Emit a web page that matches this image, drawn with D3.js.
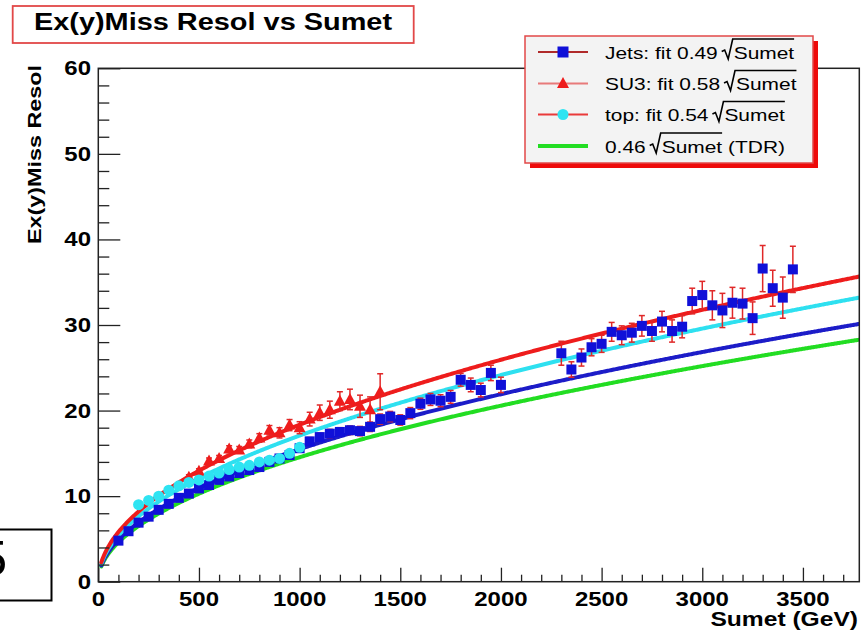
<!DOCTYPE html>
<html>
<head>
<meta charset="utf-8">
<script src="https://cdn.jsdelivr.net/npm/d3@7"></script>
<style>
  body { margin: 0; background: #fff; }
  svg { display: block; }
</style>
</head>
<body>
<svg id="chart" width="868" height="631"></svg>
<script>
// ---- data ----
const jetsSumet = [100,150,200,250,300,350,400,450,500,550,600,650,700,750,800,850,900,950,1000,
  1050,1100,1150,1200,1250,1300,1350,1400,1450,1500,1550,1600,1650,1700,1750,1800,1850,1900,1950,2000,
  2300,2350,2400,2450,2500,2550,2600,2650,2700,2750,2800,2850,2900,2950,3000,3050,3100,3150,3200,3250,
  3300,3350,3400,3450];
const jetsResol = [4.8,5.9,6.9,7.6,8.4,9.1,9.8,10.3,10.9,11.3,11.9,12.3,12.7,13.05,13.4,14.0,14.4,14.8,15.6,
  16.4,16.9,17.3,17.5,17.7,17.6,18.1,19.0,19.3,18.9,19.7,20.8,21.3,21.15,21.6,23.6,23.0,22.4,24.4,23.0,
  26.7,24.8,26.2,27.4,27.8,29.2,28.8,29.1,29.9,29.3,30.4,29.3,29.8,32.8,33.5,32.3,31.7,32.6,32.5,30.8,
  36.6,34.3,33.2,36.5];
const jetsErr = [0.2,0.2,0.2,0.2,0.25,0.25,0.25,0.25,0.3,0.3,0.3,0.3,0.35,0.35,0.35,0.35,0.4,0.4,0.4,
  0.45,0.45,0.5,0.5,0.5,0.55,0.55,0.6,0.6,0.6,0.65,0.65,0.7,0.7,0.75,0.75,0.8,0.8,0.9,0.9,
  1.4,0.9,1.0,1.0,1.0,1.1,1.1,1.1,1.2,1.2,1.2,1.3,1.3,1.5,1.6,1.7,2.0,1.8,1.8,1.9,
  2.7,2.1,2.4,2.7];

const su3Sumet = [450,500,550,600,650,700,750,800,850,900,950,1000,1050,1100,1150,1200,1250,1300,1350,1400];
const su3Resol = [12.2,12.9,14.1,14.4,15.5,15.4,16.1,16.8,17.7,17.4,18.3,18.0,19.0,19.75,20.1,21.1,21.3,20.5,20.1,22.2];
const su3Err   = [0.3,0.3,0.35,0.35,0.4,0.4,0.45,0.5,0.55,0.6,0.65,0.7,0.8,0.9,1.0,1.1,1.2,1.3,1.5,2.1];

const topSumet = [200,250,300,350,400,450,500,550,600,650,700,750,800,850,900,950,1000];
const topResol = [9.0,9.5,10.0,10.7,11.2,11.6,11.9,12.35,12.7,13.1,13.4,13.6,14.0,14.2,14.4,15.0,15.7];

// resolution = coef * sqrt(Sumet)
const fitNames  = ["TDR", "Jets", "top", "SU3"];
const fitCoefs  = [0.46, 0.49, 0.54, 0.58];
const fitColors = ["#22dd22", "#1c1cc8", "#2ee0f0", "#ee1c1c"];

const xTicks = [0,500,1000,1500,2000,2500,3000,3500];
const yTicks = [0,10,20,30,40,50,60];

const titleText = "Ex(y)Miss Resol vs Sumet";
const xTitle = "Sumet (GeV)";
const yTitle = "Ex(y)Miss Resol";
const legendPrefix = ["Jets: fit 0.49", "SU3: fit 0.58", "top: fit 0.54", "0.46"];
const legendSuffix = ["", "", "", "(TDR)"];

// ---- layout ----
const svg = d3.select("#chart");
const FONT = "'Liberation Sans', Arial, Helvetica, sans-serif";
const K = 1.23; // horizontal widening of the glyphs

const x = d3.scaleLinear().domain([0, 3780]).range([98.3, 859.3]);
const y = d3.scaleLinear().domain([0, 60]).range([581.7, 68.3]);

function sText(g, str, px, py, o = {}) {
  const t = g.append("text")
    .attr("transform", `translate(${px},${py})${o.rotate ? " rotate(-90)" : ""} scale(${K},1)`)
    .attr("text-anchor", o.anchor || "start")
    .attr("font-family", FONT)
    .attr("font-size", o.size || 17)
    .attr("font-weight", o.bold ? "bold" : "normal")
    .attr("fill", o.fill || "#000")
    .text(str);
  return t;
}
const widthOf = t => t.node().getComputedTextLength() * K;

// ---- fit curves ----
const curveX = d3.range(15, 3781, 5);
const plot = svg.append("g");
plot.append("defs").append("clipPath").attr("id", "clip")
  .append("rect").attr("x", x(0)).attr("y", y(60)).attr("width", x(3780) - x(0)).attr("height", y(0) - y(60));
const inner = plot.append("g").attr("clip-path", "url(#clip)");

const line = d3.line().x(d => x(d[0])).y(d => y(d[1])).curve(d3.curveLinear);
fitCoefs.forEach((c, i) => {
  inner.append("path")
    .attr("d", line(curveX.map(v => [v, c * Math.sqrt(v)])))
    .attr("fill", "none").attr("stroke", fitColors[i]).attr("stroke-width", 4)
    .attr("stroke-linecap", "round");
});

// ---- error bars ----
function errorBars(xs, ys, es) {
  const g = inner.append("g").attr("stroke", "#e02828").attr("stroke-width", 1.5);
  xs.forEach((v, i) => {
    const cx = x(v), lo = y(ys[i] - es[i]), hi = y(ys[i] + es[i]);
    g.append("line").attr("x1", cx).attr("x2", cx).attr("y1", lo).attr("y2", hi);
    g.append("line").attr("x1", cx - 3).attr("x2", cx + 3).attr("y1", lo).attr("y2", lo);
    g.append("line").attr("x1", cx - 3).attr("x2", cx + 3).attr("y1", hi).attr("y2", hi);
  });
}
errorBars(jetsSumet, jetsResol, jetsErr);
errorBars(su3Sumet, su3Resol, su3Err);

// ---- markers ----
const triPath = "M0,-6.5L6,4.5L-6,4.5Z";
inner.append("g").selectAll("rect").data(jetsSumet).join("rect")
  .attr("x", d => x(d) - 5).attr("y", (d, i) => y(jetsResol[i]) - 5)
  .attr("width", 10).attr("height", 10).attr("fill", "#1010d8");
inner.append("g").selectAll("path").data(su3Sumet).join("path")
  .attr("d", triPath).attr("transform", (d, i) => `translate(${x(d)},${y(su3Resol[i])})`)
  .attr("fill", "#ee1c1c");
inner.append("g").selectAll("circle").data(topSumet).join("circle")
  .attr("cx", d => x(d)).attr("cy", (d, i) => y(topResol[i])).attr("r", 5.5)
  .attr("fill", "#2ee4f2");

// ---- axes ----
const ax = svg.append("g");
ax.append("rect").attr("x", x(0)).attr("y", y(60)).attr("width", x(3780) - x(0)).attr("height", y(0) - y(60))
  .attr("fill", "none").attr("stroke", "#222").attr("stroke-width", 1.5);

const xMinor = d3.range(0, 3781, 100).filter(v => v % 500 !== 0);
const yMinor = d3.range(0, 61, 2).filter(v => v % 10 !== 0);

const xAxisMajor = d3.axisBottom(x).tickValues(xTicks).tickSize(-14).tickFormat("");
const xAxisMinor = d3.axisBottom(x).tickValues(xMinor).tickSize(-7).tickFormat("");
const yAxisMajor = d3.axisLeft(y).tickValues(yTicks).tickSize(-22).tickFormat("");
const yAxisMinor = d3.axisLeft(y).tickValues(yMinor).tickSize(-11).tickFormat("");
[[xAxisMajor, `translate(0,${y(0)})`], [xAxisMinor, `translate(0,${y(0)})`],
 [yAxisMajor, `translate(${x(0)},0)`], [yAxisMinor, `translate(${x(0)},0)`]].forEach(([a, tr]) => {
  const g = ax.append("g").attr("transform", tr).call(a);
  g.select(".domain").remove();
  g.selectAll("line").attr("stroke", "#222").attr("stroke-width", 1.3);
});

xTicks.forEach(v => sText(ax, String(v), x(v), 605.5, { anchor: "middle", bold: true, size: 19.5 }));
yTicks.forEach(v => sText(ax, String(v), 91, y(v) + 7, { anchor: "end", bold: true, size: 19.5 }));

sText(ax, xTitle, 858, 626, { anchor: "end", bold: true, size: 20 });
sText(ax, yTitle, 41, 65, { anchor: "end", bold: true, size: 19, rotate: true });

// ---- title box ----
svg.append("rect").attr("x", 12.7).attr("y", 6).attr("width", 401).attr("height", 37)
  .attr("fill", "#fff").attr("stroke", "#e24848").attr("stroke-width", 1.8);
sText(svg, titleText, 213, 29.5, { anchor: "middle", bold: true, size: 23.5 });

// ---- legend ----
const lg = svg.append("g");
lg.append("rect").attr("x", 530).attr("y", 41).attr("width", 288).attr("height", 127).attr("fill", "#ee0a0a");
lg.append("rect").attr("x", 525).attr("y", 36).attr("width", 288).attr("height", 127)
  .attr("fill", "#f3f3f3").attr("stroke", "#e24848").attr("stroke-width", 1.5);

const legendLine = ["#b02a2a", "#e87a7a", "#ea3a3a", "#22dd22"];
const rowY = [52, 83.5, 114.5, 146];
rowY.forEach((ry, i) => {
  lg.append("line").attr("x1", 538).attr("x2", 588).attr("y1", ry).attr("y2", ry)
    .attr("stroke", legendLine[i]).attr("stroke-width", i === 3 ? 4 : 2);
  if (i === 0) lg.append("rect").attr("x", 557.5).attr("y", ry - 5.5).attr("width", 11).attr("height", 11).attr("fill", "#1010d8");
  if (i === 1) lg.append("path").attr("d", triPath).attr("transform", `translate(563,${ry})`).attr("fill", "#ee1c1c");
  if (i === 2) lg.append("circle").attr("cx", 563).attr("cy", ry).attr("r", 5.5).attr("fill", "#2ee4f2");

  const base = ry + 6.5;
  const t1 = sText(lg, legendPrefix[i], 605, base, { size: 17 });
  const x0 = 605 + widthOf(t1) + 4;
  const t2 = sText(lg, "Sumet", x0 + 12, base, { size: 17 });
  const w2 = widthOf(t2);
  lg.append("path")
    .attr("d", `M${x0},${base - 7}L${x0 + 3},${base - 8.5}L${x0 + 6.5},${base + 0.5}L${x0 + 11},${base - 19.5}H${x0 + 12 + w2}`)
    .attr("fill", "none").attr("stroke", "#000").attr("stroke-width", 1.6);
  if (legendSuffix[i]) sText(lg, legendSuffix[i], x0 + 12 + w2 + 6, base, { size: 17 });
});

// ---- side box ----
svg.append("rect").attr("x", -10).attr("y", 529.5).attr("width", 61.5).attr("height", 71)
  .attr("fill", "#fff").attr("stroke", "#000").attr("stroke-width", 2);
svg.append("text").attr("x", 7).attr("y", 576).attr("text-anchor", "end")
  .attr("font-family", FONT).attr("font-size", 50).text("5");
</script>
</body>
</html>
